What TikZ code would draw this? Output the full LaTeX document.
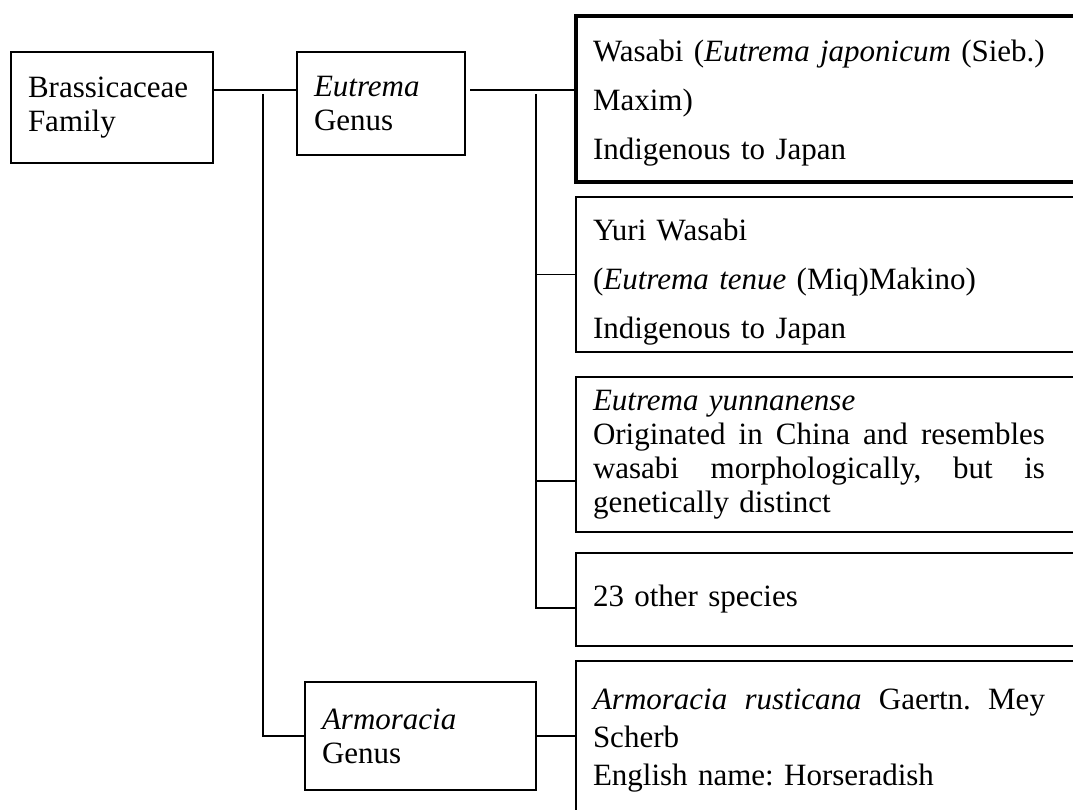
\documentclass[tikz,border=0pt]{standalone}
\usepackage{fontspec}
\setmainfont{Liberation Serif}
\frenchspacing
\begin{document}
\begin{tikzpicture}[
      x=1pt, y=-1pt,
      box/.style={draw, line width=1.5pt, anchor=north west, outer sep=0pt,
        inner xsep=17pt, inner ysep=0pt, align=left,
        font=\fontsize{31}{34}\selectfont},
      spbox/.style={box, text width=526pt},
      link/.style={line width=1.5pt},
    ]
    \useasboundingbox (0,0) rectangle (1073,810);
    \clip (0,0) rectangle (1073,810);
    % genus and family
    \node[box, text width=168pt, minimum height=111pt] (fam) at (11,52)
      {Brassicaceae\\Family};
    \node[box, text width=134pt, minimum height=103pt] (eut) at (297,52)
      {\textit{Eutrema}\\Genus};
    \node[box, text width=197pt, minimum height=108pt] (armg) at (305,682)
      {\textit{Armoracia}\\Genus};
    % species
    \node[spbox, line width=4.5pt, minimum height=166pt,
      font=\fontsize{31}{49}\selectfont] (was) at (576,16)
      {\rule{0pt}{29pt}Wasabi (\textit{Eutrema japonicum} (Sieb.)\\Maxim)\\
      Indigenous to Japan};
    \node[spbox, minimum height=155pt, font=\fontsize{31}{49}\selectfont]
      (yuri) at (576,197)
      {\rule{0pt}{37pt}Yuri Wasabi\\(\textit{Eutrema tenue} (Miq)Makino)\\
      Indigenous to Japan};
    \node[spbox, minimum height=155pt] (yun) at (576,377)
      {\textit{Eutrema yunnanense}\\
      \makebox[452pt][l]{Originated \hfill in \hfill China \hfill and
        \hfill resembles}\\
      \makebox[452pt][l]{wasabi \hfill morphologically, \hfill but \hfill is}\\
      genetically distinct};
    \node[spbox, minimum height=93pt] (oth) at (576,553) {23 other species};
    \node[spbox, minimum height=160pt, font=\fontsize{31}{38}\selectfont]
      (arms) at (576,661)
      {\makebox[452pt][l]{\textit{Armoracia} \hfill \textit{rusticana} \hfill
        Gaertn. \hfill Mey}\\
      Scherb\\English name: Horseradish};
    % connectors
    \coordinate (r0) at (0,90);
    \coordinate (t1) at (263,94);
    \coordinate (t2) at (536,94);
    \draw[link] (fam.east |- r0) -- (eut.west |- r0);
    \draw[link, shorten <=5pt] (eut.east |- r0) -- (was.west |- r0);
    \draw[link] (t1) |- (armg);
    \draw[link] (armg.east) -- (armg.east -| arms.west);
    \draw[link] (t2) |- (oth.west |- 0,608);
    \draw[link] (t2 |- yuri.west) -- (yuri.west);
    \draw[link] (t2 |- 0,481) -- (yun.west |- 0,481);
\end{tikzpicture}
\end{document}
